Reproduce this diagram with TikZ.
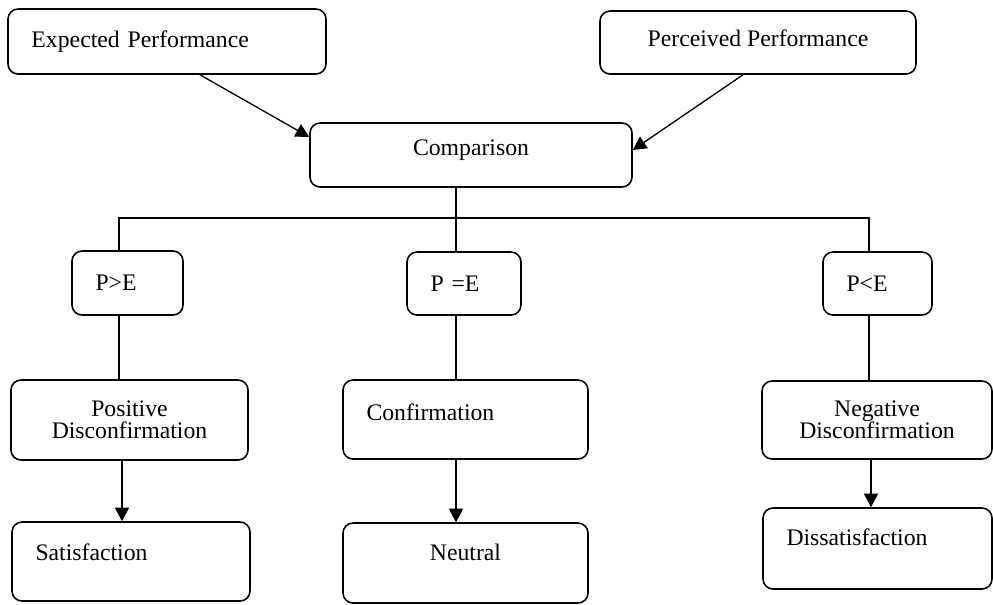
\documentclass[tikz,border=0pt]{standalone}
\usepackage{fontspec}
\setmainfont{Liberation Serif}
\usetikzlibrary{arrows.meta,positioning}

\begin{document}
\begin{tikzpicture}[
  box/.style={draw,rounded corners=2mm,line width=0.9pt,inner ysep=0pt,font=\fontsize{13.5}{12.5}\selectfont},
  lbox/.style={box,align=left,inner xsep=0.47cm},
  link/.style={line width=0.75pt},
  arr/.style={link,-{Triangle[length=2.7mm,width=2.8mm]}}]
\useasboundingbox (0,0) rectangle (19.86,-12.08);
% Top: the two inputs and the comparison
\node[lbox,text width=5.42cm,minimum height=1.30cm] (exp) at (3.34,-0.83) {Expected Performance};
\node[box,minimum width=6.32cm,minimum height=1.26cm,text depth=0.16cm] (per) at (15.16,-0.85) {Perceived Performance};
\node[box,minimum width=6.44cm,minimum height=1.28cm,text depth=0.30cm] (cmp) at (9.42,-3.10) {Comparison};
\draw[arr] ([xshift=0.66cm]exp.south) -- ([yshift=0.36cm]cmp.west);
\draw[arr] ([xshift=-0.30cm]per.south) -- ([yshift=0.10cm]cmp.east);
% Middle: the three cases
\node[lbox,text width=1.28cm,minimum height=1.28cm] (pgt) at (2.55,-5.66) {P>E};
\node[lbox,text width=1.34cm,minimum height=1.26cm] (peq) at (9.28,-5.67) {P =E};
\node[lbox,text width=1.24cm,minimum height=1.26cm] (plt) at (17.55,-5.67) {P<E};
\coordinate (hub) at (9.12,-4.36);
\draw[link] (cmp.south -| hub) -- (hub);
\draw[link] ([xshift=-1.7mm]pgt.north) |- (hub) -| ([xshift=-1.7mm]plt.north);
\draw[link] (hub) -- (hub |- peq.north);
% Disconfirmation level
\node[box,minimum width=4.74cm,minimum height=1.60cm,align=center] (pos) at (2.59,-8.40) {Positive\\Disconfirmation};
\node[lbox,text width=3.96cm,minimum height=1.58cm,text depth=0.30cm] (con) at (9.31,-8.39) {Confirmation};
\node[box,minimum width=4.60cm,minimum height=1.56cm,align=center] (neg) at (17.54,-8.40) {Negative\\Disconfirmation};
\draw[link] ([xshift=-1.7mm]pgt.south) -- ([xshift=-1.7mm]pgt.south |- pos.north);
\draw[link] (hub |- peq.south) -- (hub |- con.north);
\draw[link] ([xshift=-1.7mm]plt.south) -- ([xshift=-1.7mm]plt.south |- neg.north);
% Bottom: outcomes
\node[lbox,text width=3.82cm,minimum height=1.58cm,text depth=0.38cm] (sat) at (2.62,-11.23) {Satisfaction};
\node[box,minimum width=4.90cm,minimum height=1.60cm,text depth=0.44cm] (neu) at (9.31,-11.26) {Neutral};
\node[lbox,text width=3.64cm,minimum height=1.62cm,text depth=0.46cm] (dis) at (17.55,-10.97) {Dissatisfaction};
\draw[arr] ([xshift=-1.5mm]pos.south) -- ([xshift=-1.5mm]pos.south |- sat.north);
\draw[arr] (hub |- con.south) -- (hub |- neu.north);
\draw[arr] ([xshift=-1.2mm]neg.south) -- ([xshift=-1.2mm]neg.south |- dis.north);
\end{tikzpicture}
\end{document}
